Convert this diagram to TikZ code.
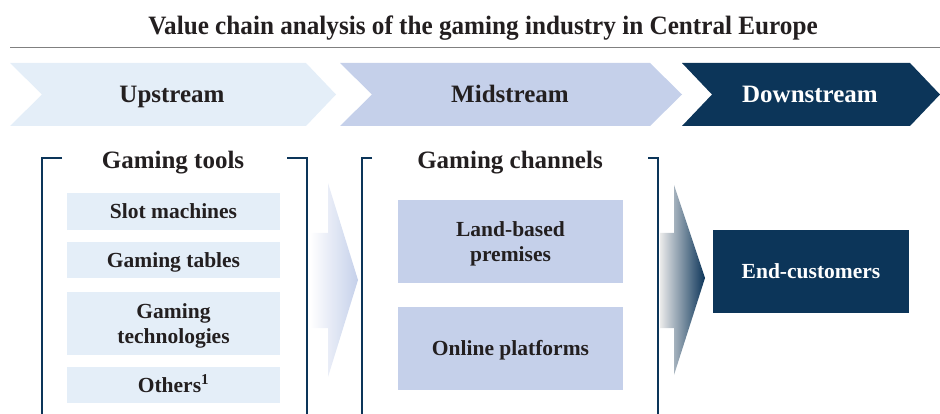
\documentclass[tikz,border=0pt]{standalone}
\usepackage{fontspec}
\setmainfont{Liberation Serif}
\newfontfamily\titlefont[FakeStretch=0.95]{Liberation Serif}
\usetikzlibrary{positioning}
\definecolor{navy}{HTML}{0C3559}
\definecolor{paleblue}{HTML}{E4EEF8}
\definecolor{midblue}{HTML}{C5D0EA}
\definecolor{ink}{HTML}{231F20}
\begin{document}
\begin{tikzpicture}[x=1pt,y=-1pt,
    title/.style={font=\titlefont\fontsize{26.5}{28}\selectfont\bfseries, text=ink, anchor=base},
    head/.style={font=\fontsize{25}{27}\selectfont\bfseries, text=ink, anchor=base},
    item/.style={font=\fontsize{21.5}{25}\selectfont\bfseries, text=ink, align=center, inner sep=0pt, text depth=0pt},
    oneline/.style={text height=14.2pt},
    twoline/.style={execute at begin node={\rule{0pt}{20pt}}},
    toolbox/.style={item, fill=paleblue, minimum width=213pt},
    chanbox/.style={item, fill=midblue, minimum width=225pt, minimum height=83pt},
    bracket/.style={draw=navy, line width=1.6pt}]
    \useasboundingbox (0,0) rectangle (940,414);
    \node [title] (ttl) at (483,35) {Value chain analysis of the gaming industry in Central Europe};
    \draw [black!50, line width=1pt] (10,48) -- (940,48);
    \fill [paleblue] (10,63) -- (306,63) -- (336,94.5) -- (306,126) -- (10,126) -- (42,94.5) -- cycle;
    \fill [midblue] (340,63) -- (650,63) -- (682,94.5) -- (650,126) -- (340,126) -- (372,94.5) -- cycle;
    \fill [navy] (682,63) -- (910,63) -- (940,94.5) -- (910,126) -- (682,126) -- (712,94.5) -- cycle;
    \node [head] (up) at (172,103) {Upstream};
    \node [head] (mid) at (510,103) {Midstream};
    \node [head, text=white] (down) at (810,103) {Downstream};
    \draw [bracket] (62,158) -- (42,158) -- (42,414);
    \draw [bracket] (287,158) -- (307,158) -- (307,414);
    \draw [bracket] (372,158) -- (362,158) -- (362,414);
    \draw [bracket] (648,158) -- (658,158) -- (658,414);
    \node [head] (tools) at (173,169) {Gaming tools};
    \node [head] (chan) at (510,169) {Gaming channels};
    \node [toolbox, oneline, minimum height=37pt] (slot) at (173.5,211.5) {Slot machines};
    \node [toolbox, oneline, minimum height=36pt] (tables) at (173.5,260) {Gaming tables};
    \node [toolbox, twoline, minimum height=63pt] (tech) at (173.5,323.5) {Gaming\\technologies};
    \node [toolbox, oneline, minimum height=36pt] (others) at (173.5,385) {Others\textsuperscript{1}};
    \node [chanbox, twoline] (land) at (510.5,241.5) {Land-based\\premises};
    \node [chanbox, oneline] (online) at (510.5,348) {Online platforms};
    \node [item, oneline, fill=navy, text=white, minimum width=196pt, minimum height=83pt] (cust) at (811,271.5) {End-customers};
    \shade [left color=white, right color=midblue] (310,233) -- (328,233) -- (328,183) -- (358,280) -- (328,377) -- (328,328) -- (310,328) -- cycle;
    \shade [left color=black!8, right color=navy] (660,233) -- (674,233) -- (674,185) -- (705,278) -- (674,375) -- (674,328) -- (660,328) -- cycle;
\end{tikzpicture}
\end{document}
